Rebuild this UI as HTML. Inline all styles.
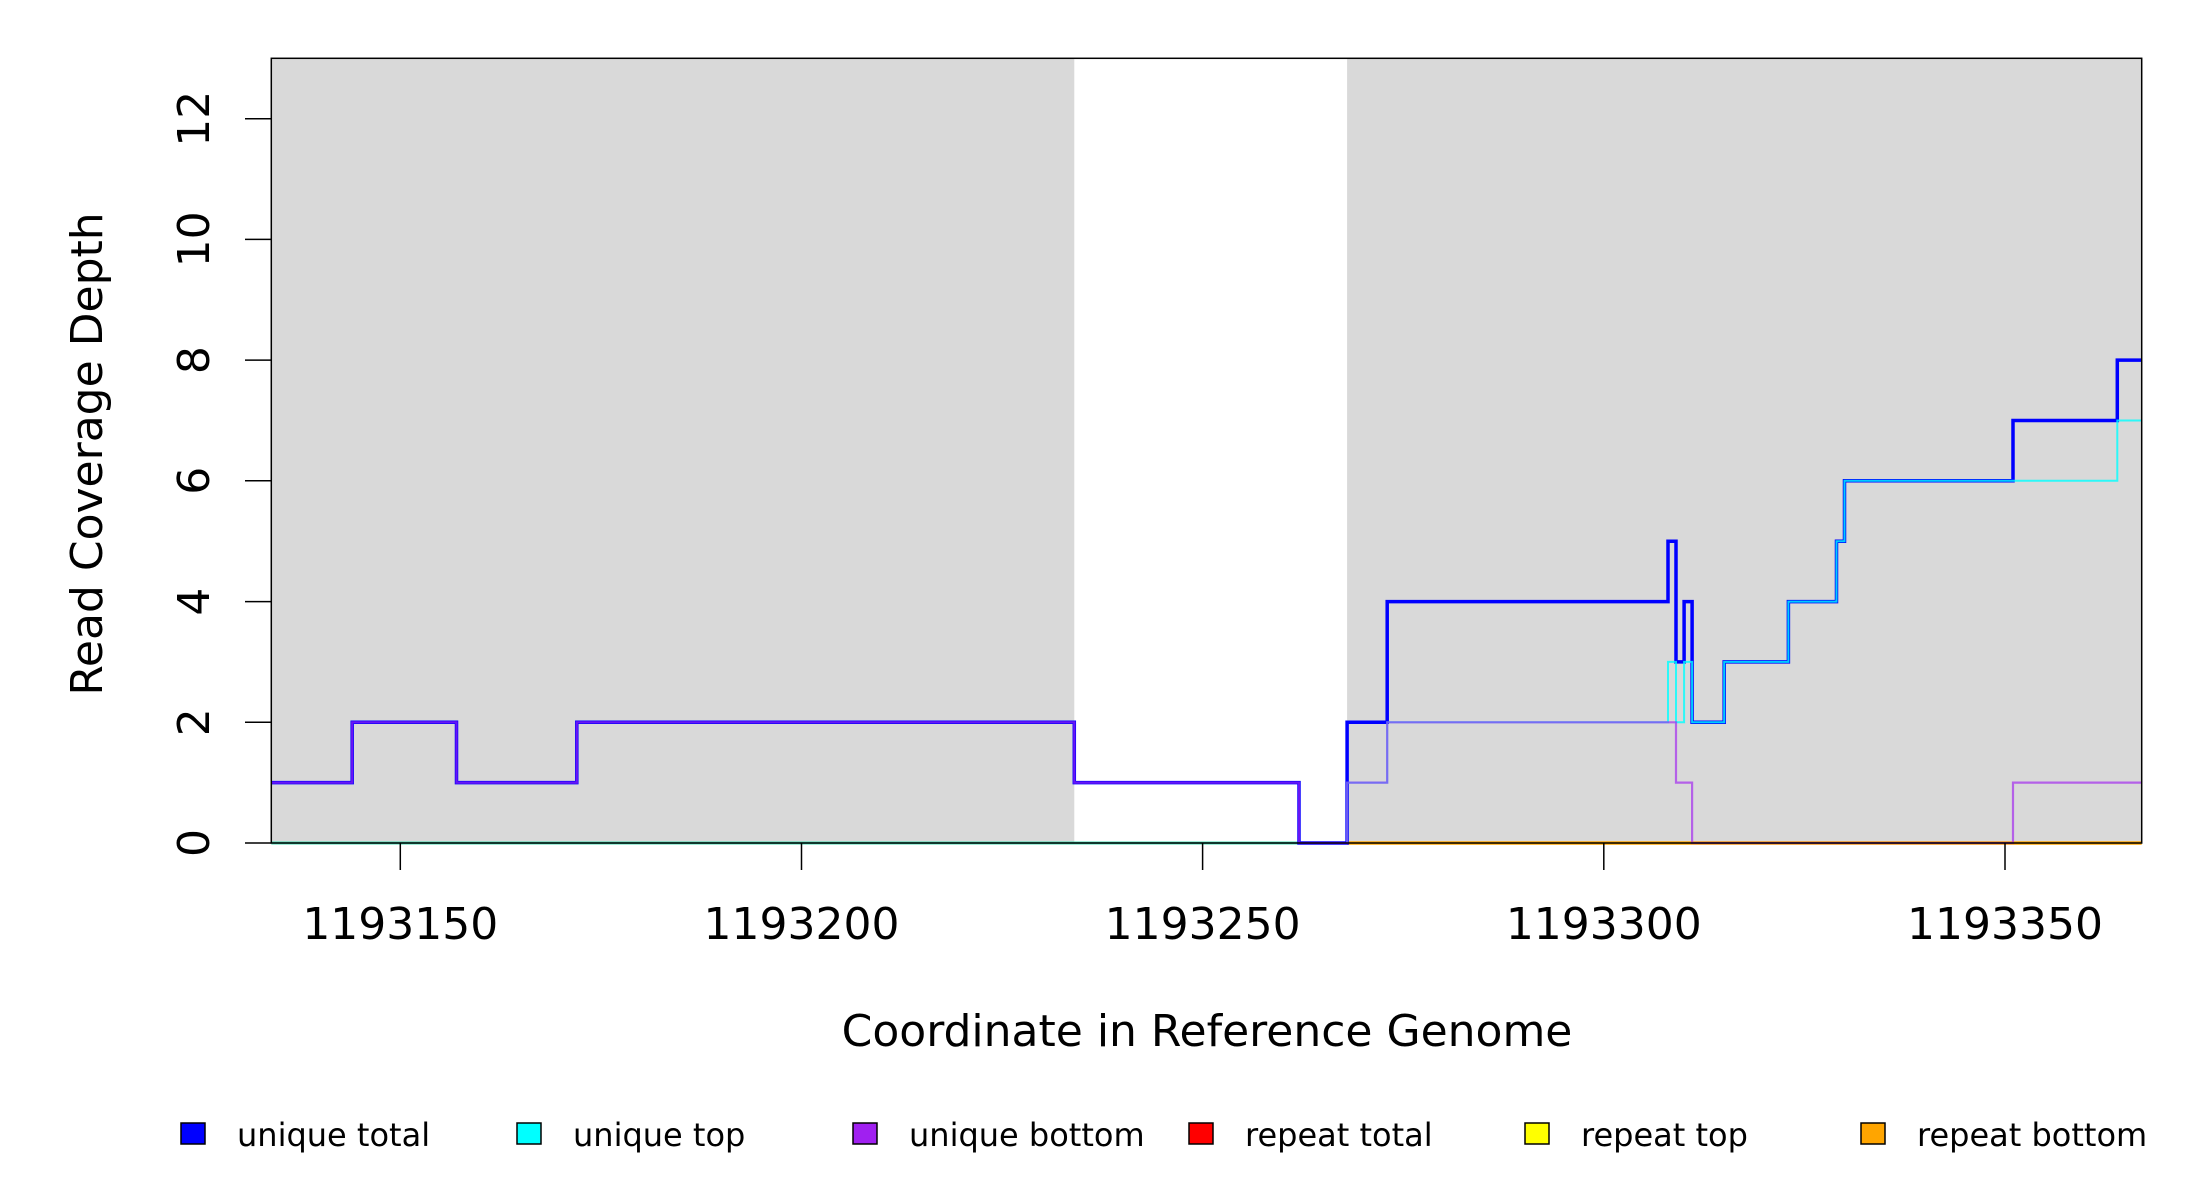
<!DOCTYPE html>
<html><head><meta charset="utf-8"><style>html,body{margin:0;padding:0;background:#fff}svg{display:block}</style></head>
<body>
<svg xmlns="http://www.w3.org/2000/svg" width="2200" height="1200" viewBox="0 0 2200 1200" font-family="DejaVu Sans, Liberation Sans, sans-serif">
<rect x="0" y="0" width="2200" height="1200" fill="#fff"/>
<rect x="271.3" y="58.3" width="803" height="784.7" fill="#d9d9d9"/>
<rect x="1347.1" y="58.3" width="794.6" height="784.7" fill="#d9d9d9"/>
<g fill="none" stroke-linejoin="miter">
<path d="M271.3,843 H1347.1" stroke="#40d8b0" stroke-width="3"/>
<path d="M1347.1,843 H2141.7" stroke="#ffa500" stroke-width="3.5"/>
<path d="M271.3,782.6 H352.2 V722.3 H456.5 V782.6 H576.8 V722.3 H1074.3 V782.6 H1299 V843 H1347.1 V722.3 H1387.2 V601.6 H1668 V541.2 H1676 V661.9 H1684.1 V601.6 H1692.1 V722.3 H1724.2 V661.9 H1788.4 V601.6 H1836.5 V541.2 H1844.5 V480.8 H2013 V420.5 H2117.3 V360.1 H2141.7" stroke="#0000ff" stroke-width="3.5"/>
<path d="M1347.1,843 V782.6 H1387.2 V722.3 H1668 V661.9 H1676 V722.3 H1684.1 V661.9 H1692.1 V722.3 H1724.2 V661.9 H1788.4 V601.6 H1836.5 V541.2 H1844.5 V480.8 H2117.3 V420.5 H2141.7" stroke="#00ffff" stroke-width="2" stroke-opacity="0.8"/>
<path d="M271.3,782.6 H352.2 V722.3 H456.5 V782.6 H576.8 V722.3 H1074.3 V782.6 H1299 V843 H1347.1 V782.6 H1387.2 V722.3 H1676 V782.6 H1692.1 V843 H2013 V782.6 H2141.7" stroke="#a020f0" stroke-width="2.2" stroke-opacity="0.65"/>
</g>
<rect x="271.3" y="58.3" width="1870.4" height="784.7" fill="none" stroke="#000" stroke-width="1.5"/>
<g stroke="#000" stroke-width="1.5">
<line x1="245" y1="843" x2="271.3" y2="843"/>
<line x1="245" y1="722.3" x2="271.3" y2="722.3"/>
<line x1="245" y1="601.6" x2="271.3" y2="601.6"/>
<line x1="245" y1="480.8" x2="271.3" y2="480.8"/>
<line x1="245" y1="360.1" x2="271.3" y2="360.1"/>
<line x1="245" y1="239.4" x2="271.3" y2="239.4"/>
<line x1="245" y1="118.7" x2="271.3" y2="118.7"/>
<line x1="400.3" y1="843" x2="400.3" y2="870"/>
<line x1="801.5" y1="843" x2="801.5" y2="870"/>
<line x1="1202.6" y1="843" x2="1202.6" y2="870"/>
<line x1="1603.8" y1="843" x2="1603.8" y2="870"/>
<line x1="2005" y1="843" x2="2005" y2="870"/>
</g>
<g font-size="44" fill="#000" text-anchor="middle">
<text transform="translate(209,843) rotate(-90)">0</text>
<text transform="translate(209,722.3) rotate(-90)">2</text>
<text transform="translate(209,601.6) rotate(-90)">4</text>
<text transform="translate(209,480.8) rotate(-90)">6</text>
<text transform="translate(209,360.1) rotate(-90)">8</text>
<text transform="translate(209,239.4) rotate(-90)">10</text>
<text transform="translate(209,118.7) rotate(-90)">12</text>
<text x="400.3" y="939">1193150</text>
<text x="801.5" y="939">1193200</text>
<text x="1202.6" y="939">1193250</text>
<text x="1603.8" y="939">1193300</text>
<text x="2005" y="939">1193350</text>
<text transform="translate(102,454) rotate(-90)">Read Coverage Depth</text>
<text x="1207" y="1046">Coordinate in Reference Genome</text>
</g>
<g stroke="#000" stroke-width="1.5">
<rect x="181" y="1123" width="24" height="21" fill="#0000ff"/>
<rect x="517" y="1123" width="24" height="21" fill="#00ffff"/>
<rect x="853" y="1123" width="24" height="21" fill="#a020f0"/>
<rect x="1189" y="1123" width="24" height="21" fill="#ff0000"/>
<rect x="1525" y="1123" width="24" height="21" fill="#ffff00"/>
<rect x="1861" y="1123" width="24" height="21" fill="#ffa500"/>
</g>
<g font-size="32" fill="#000">
<text x="237" y="1146">unique total</text>
<text x="573" y="1146">unique top</text>
<text x="909" y="1146">unique bottom</text>
<text x="1245" y="1146">repeat total</text>
<text x="1581" y="1146">repeat top</text>
<text x="1917" y="1146">repeat bottom</text>
</g>
</svg>
</body></html>
